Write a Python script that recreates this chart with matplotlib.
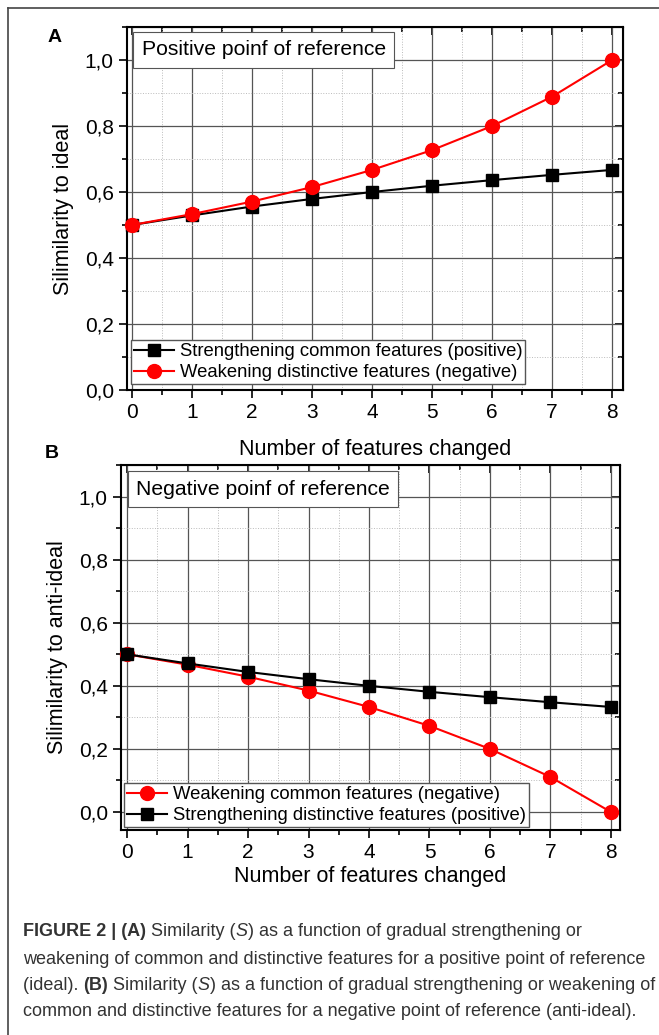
import numpy as np
import matplotlib.pyplot as plt
from matplotlib.ticker import MultipleLocator, FuncFormatter
from matplotlib.lines import Line2D

plt.rcParams['font.family'] = ['Liberation Sans', 'DejaVu Sans']

n_changed = [0, 1, 2, 3, 4, 5, 6, 7, 8]

# panel A (positive point of reference)
a_common_strength = [0.5, 0.529, 0.556, 0.579, 0.6, 0.619, 0.636, 0.652, 0.667]
a_distinct_weaken = [0.5, 0.533, 0.571, 0.615, 0.667, 0.727, 0.8, 0.889, 1.0]

# panel B (negative point of reference)
b_common_weaken = [0.5, 0.467, 0.429, 0.385, 0.333, 0.273, 0.2, 0.111, 0.0]
b_distinct_strength = [0.5, 0.471, 0.444, 0.421, 0.4, 0.381, 0.364, 0.348, 0.333]

W, H = 659, 1035
fig = plt.figure(figsize=(W / 100, H / 100), dpi=100)


def box(x0, y0, x1, y1):
    # pixel coords (top-left origin) -> figure fraction
    return [x0 / W, 1 - y1 / H, (x1 - x0) / W, (y1 - y0) / H]


def style_axes(ax, xlim, ylim):
    ax.set_xlim(*xlim)
    ax.set_ylim(*ylim)
    ax.xaxis.set_major_locator(MultipleLocator(1))
    ax.xaxis.set_minor_locator(MultipleLocator(0.5))
    ax.yaxis.set_major_locator(MultipleLocator(0.2))
    ax.yaxis.set_minor_locator(MultipleLocator(0.1))
    ax.yaxis.set_major_formatter(FuncFormatter(lambda v, p: f'{v:.1f}'.replace('.', ',')))
    ax.grid(True, which='major', color='#555555', lw=0.9)
    ax.grid(True, which='minor', color='#bbbbbb', lw=0.7, ls=':')
    ax.set_axisbelow(True)
    for s in ax.spines.values():
        s.set_linewidth(1.5)
    ax.tick_params(which='both', labelsize=15, width=1.2)
    ax.tick_params(which='major', length=6)
    ax.tick_params(which='minor', length=3.5)
    ax.tick_params(axis='x', which='both', direction='out', top=False)
    ax.tick_params(axis='y', which='both', direction='out', right=False)
    # inner ticks on top / right
    sec_x = ax.secondary_xaxis('top')
    sec_x.xaxis.set_major_locator(MultipleLocator(1))
    sec_x.xaxis.set_minor_locator(MultipleLocator(0.5))
    sec_x.tick_params(which='both', direction='in', labeltop=False, width=1.2)
    sec_x.tick_params(which='major', length=6)
    sec_x.tick_params(which='minor', length=3.5)
    sec_y = ax.secondary_yaxis('right')
    sec_y.yaxis.set_major_locator(MultipleLocator(0.2))
    sec_y.yaxis.set_minor_locator(MultipleLocator(0.1))
    sec_y.tick_params(which='both', direction='in', labelright=False, width=1.2)
    sec_y.tick_params(which='major', length=6)
    sec_y.tick_params(which='minor', length=3.5)


leg_kw = dict(loc='lower left', frameon=True, fancybox=False, edgecolor='#555555',
              framealpha=1, fontsize=13.3, borderpad=0.15, handlelength=2.2,
              handletextpad=0.3, labelspacing=0.22, borderaxespad=0)
box_kw = dict(boxstyle='square,pad=0.4', fc='white', ec='#555555', lw=0.8)

# panel A
axA = fig.add_axes(box(127, 27, 623, 390))
style_axes(axA, (-0.083, 8.18), (0.0, 1.1))
axA.plot(n_changed, a_common_strength, color='black', marker='s', ms=9, lw=1.5,
         label='Strengthening common features (positive)', clip_on=False, zorder=3)
axA.plot(n_changed, a_distinct_weaken, color='#ff0000', marker='o', ms=10, lw=1.5,
         label='Weakening distinctive features (negative)', clip_on=False, zorder=3)
axA.set_ylabel('Silimilarity to ideal', fontsize=15.5, labelpad=8)
axA.set_xlabel('Number of features changed', fontsize=15.5, labelpad=12)
axA.text(0.03, 0.963, 'Positive poinf of reference', transform=axA.transAxes,
         fontsize=15.2, va='top', ha='left', bbox=box_kw)
axA.legend(bbox_to_anchor=(0.008, 0.017), **leg_kw)

# panel B
axB = fig.add_axes(box(121, 465, 620, 830))
style_axes(axB, (-0.1, 8.15), (-0.057, 1.1))
axB.plot(n_changed, b_common_weaken, color='#ff0000', marker='o', ms=10, lw=1.5,
         label='Weakening common features (negative)', clip_on=False, zorder=3)
axB.plot(n_changed, b_distinct_strength, color='black', marker='s', ms=9, lw=1.5,
         label='Strengthening distinctive features (positive)', clip_on=False, zorder=4)
axB.set_ylabel('Silimilarity to anti-ideal', fontsize=15.5, labelpad=8)
axB.set_xlabel('Number of features changed', fontsize=15.5, labelpad=3)
axB.text(0.03, 0.96, 'Negative poinf of reference', transform=axB.transAxes,
         fontsize=15.2, va='top', ha='left', bbox=box_kw)
axB.legend(bbox_to_anchor=(0.006, 0.008), **leg_kw)

# panel letters
fig.text(48 / W, 1 - 37 / H, 'A', fontsize=14, fontweight='bold', va='center')
fig.text(45 / W, 1 - 453 / H, 'B', fontsize=14, fontweight='bold', va='center')

# outer frame (left and top)
fig.add_artist(Line2D([8 / W, 8 / W], [0, 1 - 8 / H], transform=fig.transFigure,
                      color='#444444', lw=1.2))
fig.add_artist(Line2D([8 / W, 1], [1 - 8 / H, 1 - 8 / H], transform=fig.transFigure,
                      color='#444444', lw=1.2))

# caption
cap_color = '#333333'
lines = [
    [('FIGURE 2 | (A)', 'bold', 'normal'), (' Similarity (', 'normal', 'normal'),
     ('S', 'normal', 'italic'), (') as a function of gradual strengthening or', 'normal', 'normal')],
    [('weakening of common and distinctive features for a positive point of reference', 'normal', 'normal')],
    [('(ideal). ', 'normal', 'normal'), ('(B)', 'bold', 'normal'), (' Similarity (', 'normal', 'normal'),
     ('S', 'normal', 'italic'), (') as a function of gradual strengthening or weakening of', 'normal', 'normal')],
    [('common and distinctive features for a negative point of reference (anti-ideal).', 'normal', 'normal')],
]
ys = [932, 960, 986, 1012]
fig.canvas.draw()
renderer = fig.canvas.get_renderer()
for parts, y in zip(lines, ys):
    x = 23 / W
    for txt, w, st in parts:
        t = fig.text(x, 1 - y / H, txt, fontsize=13, fontweight=w, fontstyle=st,
                     color=cap_color, va='center', ha='left')
        bb = t.get_window_extent(renderer=renderer)
        x += bb.width / W

fig.savefig('out.png', dpi=100)
